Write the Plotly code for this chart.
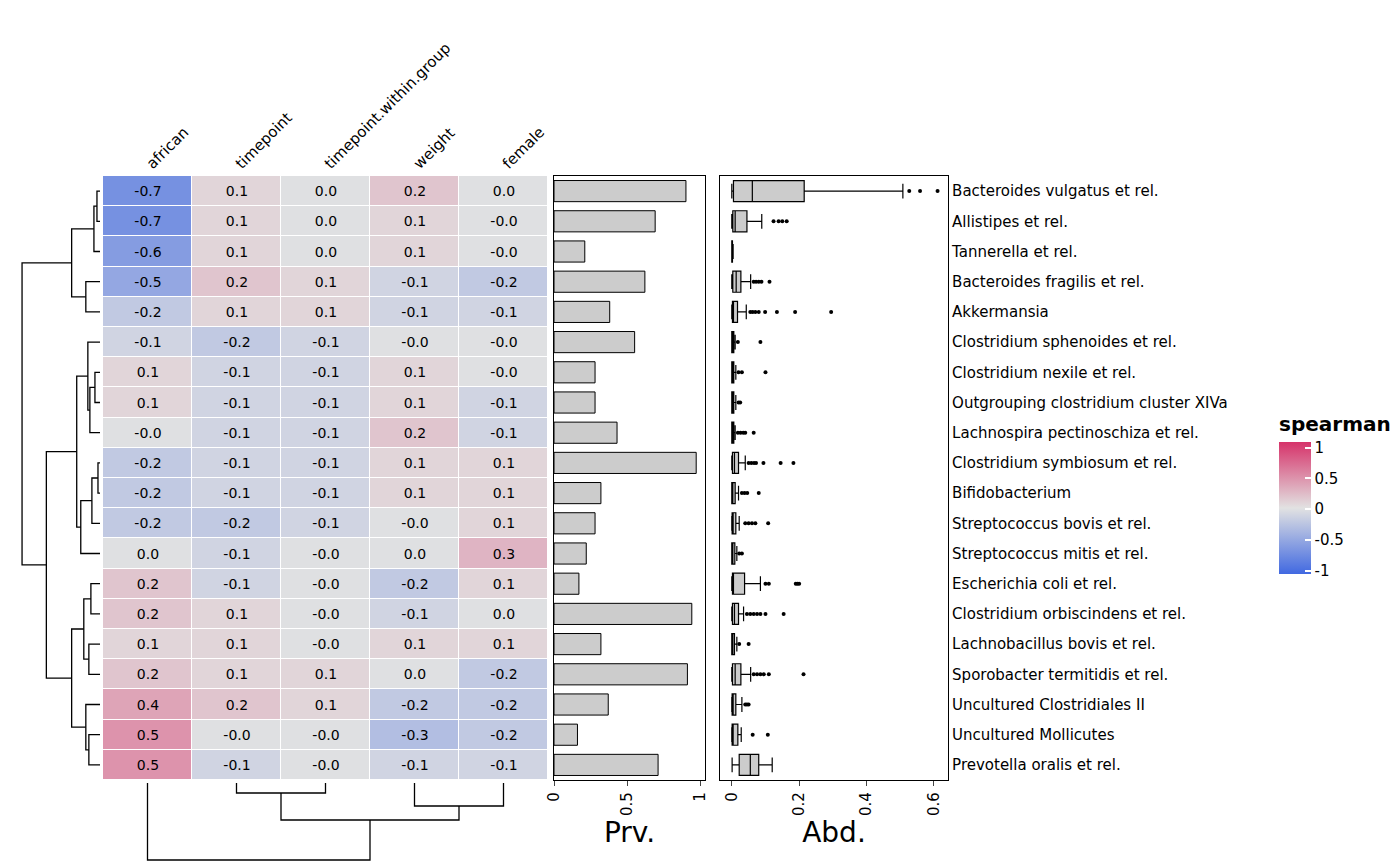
import plotly.graph_objects as go

taxa = ["Bacteroides vulgatus et rel.", "Allistipes et rel.", "Tannerella et rel.",
        "Bacteroides fragilis et rel.", "Akkermansia", "Clostridium sphenoides et rel.",
        "Clostridium nexile et rel.", "Outgrouping clostridium cluster XIVa",
        "Lachnospira pectinoschiza et rel.", "Clostridium symbiosum et rel.",
        "Bifidobacterium", "Streptococcus bovis et rel.", "Streptococcus mitis et rel.",
        "Escherichia coli et rel.", "Clostridium orbiscindens et rel.",
        "Lachnobacillus bovis et rel.", "Sporobacter termitidis et rel.",
        "Uncultured Clostridiales II", "Uncultured Mollicutes", "Prevotella oralis et rel."]
variables = ["african", "timepoint", "timepoint.within.group", "weight", "female"]

spearman = [
    [-0.7, 0.1, 0.0, 0.2, 0.0],
    [-0.7, 0.1, 0.0, 0.1, -0.0],
    [-0.6, 0.1, 0.0, 0.1, -0.0],
    [-0.5, 0.2, 0.1, -0.1, -0.2],
    [-0.2, 0.1, 0.1, -0.1, -0.1],
    [-0.1, -0.2, -0.1, -0.0, -0.0],
    [0.1, -0.1, -0.1, 0.1, -0.0],
    [0.1, -0.1, -0.1, 0.1, -0.1],
    [-0.0, -0.1, -0.1, 0.2, -0.1],
    [-0.2, -0.1, -0.1, 0.1, 0.1],
    [-0.2, -0.1, -0.1, 0.1, 0.1],
    [-0.2, -0.2, -0.1, -0.0, 0.1],
    [0.0, -0.1, -0.0, 0.0, 0.3],
    [0.2, -0.1, -0.0, -0.2, 0.1],
    [0.2, 0.1, -0.0, -0.1, 0.0],
    [0.1, 0.1, -0.0, 0.1, 0.1],
    [0.2, 0.1, 0.1, 0.0, -0.2],
    [0.4, 0.2, 0.1, -0.2, -0.2],
    [0.5, -0.0, -0.0, -0.3, -0.2],
    [0.5, -0.1, -0.0, -0.1, -0.1],
]

prevalence = [0.90, 0.69, 0.21, 0.62, 0.38, 0.55, 0.28, 0.28, 0.43, 0.97,
              0.32, 0.28, 0.22, 0.17, 0.94, 0.32, 0.91, 0.37, 0.16, 0.71]

# abundance box stats: lower fence, q1, median, q3, upper fence
ab_low = [0.0, 0.0, 0.0, 0.0, 0.0, 0.0, 0.0, 0.0, 0.0, 0.0,
          0.0, 0.0, 0.0, 0.0, 0.0, 0.0, 0.0, 0.0, 0.0, 0.001]
ab_q1 = [0.005, 0.003, 0.0, 0.003, 0.002, 0.0, 0.0, 0.0, 0.0, 0.002,
         0.0, 0.001, 0.0, 0.002, 0.002, 0.0, 0.002, 0.001, 0.001, 0.022]
ab_med = [0.061, 0.010, 0.001, 0.013, 0.005, 0.002, 0.002, 0.002, 0.002, 0.008,
          0.003, 0.004, 0.003, 0.005, 0.008, 0.002, 0.010, 0.004, 0.004, 0.055]
ab_q3 = [0.215, 0.045, 0.002, 0.027, 0.017, 0.006, 0.006, 0.006, 0.006, 0.020,
         0.010, 0.012, 0.009, 0.038, 0.020, 0.008, 0.027, 0.012, 0.018, 0.080]
ab_up = [0.508, 0.089, 0.004, 0.056, 0.043, 0.010, 0.012, 0.012, 0.010, 0.040,
         0.020, 0.022, 0.015, 0.085, 0.035, 0.015, 0.056, 0.030, 0.028, 0.120]
ab_out = [
    [0.527, 0.559, 0.611],
    [0.124, 0.139, 0.150, 0.163],
    [],
    [0.065, 0.072, 0.080, 0.088, 0.112],
    [0.055, 0.062, 0.070, 0.080, 0.099, 0.134, 0.188, 0.295],
    [0.018, 0.085],
    [0.020, 0.030, 0.100],
    [0.020, 0.025],
    [0.018, 0.026, 0.034, 0.040, 0.065],
    [0.050, 0.058, 0.066, 0.072, 0.094, 0.145, 0.183],
    [0.030, 0.038, 0.046, 0.080],
    [0.040, 0.050, 0.060, 0.070, 0.108],
    [0.022, 0.030],
    [0.100, 0.110, 0.190, 0.195, 0.200],
    [0.045, 0.055, 0.065, 0.075, 0.085, 0.100, 0.154],
    [0.022, 0.050],
    [0.065, 0.075, 0.085, 0.095, 0.110, 0.213],
    [0.040, 0.045, 0.050],
    [0.062, 0.107],
    [],
]

# dendrograms: (left, right, height), leaves are row/column indices
row_tree = ((((0, 1, 3), 2, 6), (3, 4, 14), 28),
            (((5, ((6, 7, 5), 8, 10), 12), (((9, 10, 2), 11, 8), 12, 19), 23),
             (((13, 14, 9), (15, 16, 11), 16), (17, (18, 19, 11), 14), 28), 53), 77)
col_tree = (0, ((1, 2, 10), (3, 4, 23), 37), 77)


def dendro_segments(node):
    """Return (position, height, xs, hs) for elbow dendrogram lines."""
    if isinstance(node, int):
        return node, 0, [], []
    left, right, h = node
    p1, h1, a1, b1 = dendro_segments(left)
    p2, h2, a2, b2 = dendro_segments(right)
    pos = a1 + a2 + [p1, p1, p2, p2, None]
    hts = b1 + b2 + [h1, h, h, h2, None]
    return (p1 + p2) / 2, h, pos, hts


W, H = 1400, 866


def px(x):
    return x / W


def py(y):
    return 1 - y / H


font = "DejaVu Sans"
colorscale = [[0, "#4169E1"], [0.5, "#E2E2E2"], [1, "#D6336A"]]
rows = list(range(len(taxa)))

fig = go.Figure()

fig.add_trace(go.Heatmap(
    z=spearman, x=list(range(len(variables))), y=rows,
    zmin=-1.05, zmax=1.09, colorscale=colorscale, xgap=1, ygap=1,
    text=[[f"{v:.1f}" for v in r] for r in spearman], texttemplate="%{text}",
    textfont=dict(size=14, color="black"),
    colorbar=dict(title=dict(text="<b>spearman</b>", side="top", font=dict(size=20)),
                  x=px(1271), xanchor="left", y=py(566), yanchor="bottom",
                  len=161 / H, lenmode="fraction", thickness=32, outlinewidth=0,
                  xpad=0, ypad=0,
                  tickvals=[-1, -0.5, 0, 0.5, 1], ticktext=["-1", "-0.5", "0", "0.5", "1"],
                  ticks="inside", tickcolor="white", ticklen=6, tickwidth=1.5,
                  tickfont=dict(size=15)),
    xaxis="x", yaxis="y",
))

fig.add_trace(go.Bar(
    x=prevalence, y=rows, orientation="h", width=0.7,
    marker=dict(color="#CCCCCC", line=dict(color="black", width=1)),
    xaxis="x2", yaxis="y2", showlegend=False,
))

for i in rows:
    fig.add_trace(go.Box(
        y=[i], q1=[ab_q1[i]], median=[ab_med[i]], q3=[ab_q3[i]],
        lowerfence=[ab_low[i]], upperfence=[ab_up[i]], orientation="h",
        fillcolor="#CCCCCC", line=dict(color="black", width=1.2),
        width=0.7, whiskerwidth=0.7, boxpoints=False,
        xaxis="x3", yaxis="y3", showlegend=False,
    ))
    if ab_out[i]:
        fig.add_trace(go.Scatter(
            x=ab_out[i], y=[i] * len(ab_out[i]), mode="markers",
            marker=dict(color="black", size=4), xaxis="x3", yaxis="y3", showlegend=False,
        ))

_, _, rpos, rh = dendro_segments(row_tree)
fig.add_trace(go.Scatter(x=rh, y=rpos, mode="lines", line=dict(color="black", width=1.3),
                         xaxis="x4", yaxis="y4", showlegend=False))
_, _, cpos, ch = dendro_segments(col_tree)
fig.add_trace(go.Scatter(x=cpos, y=ch, mode="lines", line=dict(color="black", width=1.3),
                         xaxis="x5", yaxis="y5", showlegend=False))

yrange = [len(taxa) - 0.5, -0.5]
hidden = dict(showgrid=False, zeroline=False, showticklabels=False, ticks="",
              automargin=False)
framed = dict(showline=True, mirror=True, linecolor="black", linewidth=1.2,
              showgrid=False, zeroline=False, automargin=False)

fig.update_layout(
    width=W, height=H, margin=dict(l=0, r=0, t=0, b=0, autoexpand=False),
    plot_bgcolor="white", paper_bgcolor="white",
    font=dict(family=font, size=14, color="black"),
    xaxis=dict(domain=[px(95), px(540)], range=[-0.5, 4.5], side="top",
               tickvals=list(range(5)), ticktext=variables, tickangle=-45,
               showgrid=False, zeroline=False, ticks="", tickfont=dict(size=15),
               automargin=False),
    yaxis=dict(domain=[py(772), py(168)], range=yrange, **hidden),
    xaxis2=dict(domain=[px(546), px(697)], range=[0, 1.03], tickvals=[0, 0.5, 1],
                ticktext=["0", "0.5", "1"], tickangle=-90, ticks="outside", ticklen=5,
                title=dict(text="Prv.", font=dict(size=28), standoff=4),
                tickfont=dict(size=15), **framed),
    yaxis2=dict(domain=[py(772), py(168)], range=yrange, anchor="x2",
                showticklabels=False, ticks="", **framed),
    xaxis3=dict(domain=[px(712), px(940)], range=[-0.035, 0.642],
                tickvals=[0, 0.2, 0.4, 0.6], ticktext=["0", "0.2", "0.4", "0.6"],
                tickangle=-90, ticks="outside", ticklen=5,
                title=dict(text="Abd.", font=dict(size=28), standoff=4),
                tickfont=dict(size=15), **framed),
    yaxis3=dict(domain=[py(772), py(168)], range=yrange, anchor="x3", side="right",
                tickvals=rows, ticktext=taxa, ticks="", tickfont=dict(size=15),
                **framed),
    xaxis4=dict(domain=[px(10), px(92)], range=[81, 0], anchor="y4", **hidden),
    yaxis4=dict(domain=[py(772), py(168)], range=yrange, anchor="x4", **hidden),
    xaxis5=dict(domain=[px(95), px(540)], range=[-0.5, 4.5], anchor="y5", **hidden),
    yaxis5=dict(domain=[py(855), py(775)], range=[80, 0], anchor="x5", **hidden),
    showlegend=False,
)

fig.write_html("out.html")
